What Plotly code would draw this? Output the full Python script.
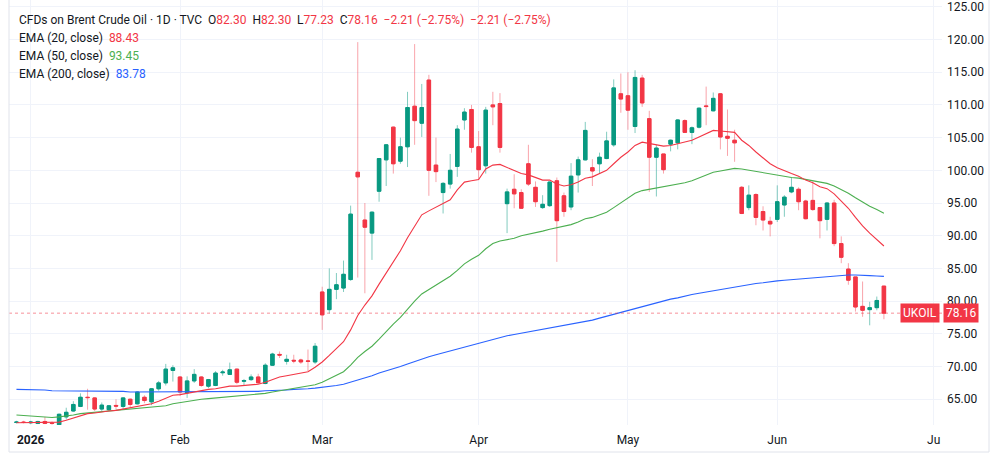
import plotly.graph_objects as go
import pandas as pd

# ---------------- data ----------------
opens = [61.45, 61.5, 61.4, 61.3, 61.6, 61.35, 61.1, 62.3, 63.2, 63.9, 65.3, 65.2, 63.5, 63.4, 64.05, 63.9, 65.0, 64.3, 65.3, 64.6, 66.6, 67.5, 69.4,
         68.4, 66.0, 67.8, 68.4, 67.0, 67.1, 69.05, 68.8, 69.6, 67.75, 68.0, 68.4, 67.4, 70.2, 71.85, 70.8, 70.95, 71.0, 70.85, 70.7,
         81.4, 78.7, 81.8, 82.0, 83.3, 99.7, 92.4, 90.4, 96.8, 101.6, 106.6, 101.4, 103.6, 109.8, 107.2, 113.8, 100.8, 96.6, 97.9, 100.6, 107.7, 109.3,
         103.6, 100.7, 110.0, 110.2, 94.9, 97.1, 96.6, 101.0, 97.4, 94.3, 94.6, 98.4, 96.1, 94.4, 99.3, 101.6, 100.4, 101.0, 101.8, 103.9, 111.7,
         111.4, 106.7, 114.1, 107.9, 102.0, 102.5, 104.0, 104.2, 107.6, 105.8, 106.6, 109.85, 109.1, 111.7, 105.2, 104.6, 97.4, 94.3, 96.3, 93.7, 92.2,
         92.5, 94.7, 96.7, 97.1, 95.3, 95.4, 94.3, 92.5, 95.0, 88.8, 84.9, 83.7, 79.2, 78.7, 79.0, 82.30]
highs = [61.7, 61.7, 61.7, 61.7, 62.3, 61.6, 62.8, 63.7, 64.7, 65.9, 66.6, 65.3, 64.5, 64.1, 65.0, 65.3, 65.1, 66.2, 65.6, 66.7, 67.8, 70.4, 70.2,
         68.5, 68.5, 69.6, 68.5, 68.1, 69.3, 69.5, 70.6, 69.7, 68.1, 68.8, 68.9, 70.5, 72.1, 72.3, 71.8, 71.8, 71.2, 72.6, 73.6,
         82.2, 85.0, 84.3, 86.2, 94.6, 119.6, 95.0, 93.7, 101.8, 104.0, 106.7, 105.0, 112.0, 119.3, 113.2, 114.6, 105.0, 98.2, 102.5, 106.9, 109.5, 110.0,
         106.0, 109.7, 112.0, 111.8, 97.2, 99.4, 97.1, 103.9, 98.3, 96.2, 98.3, 98.9, 96.6, 101.1, 102.1, 107.4, 101.7, 102.7, 105.9, 113.9, 114.8,
         115.0, 115.3, 114.6, 109.1, 103.9, 102.5, 104.7, 107.8, 107.8, 106.7, 109.6, 112.8, 111.9, 111.8, 109.3, 106.2, 97.6, 97.7, 96.5, 94.5, 92.9,
         97.7, 96.2, 98.9, 97.4, 95.5, 98.3, 94.4, 95.1, 95.5, 89.9, 85.8, 83.7, 83.0, 79.9, 80.7, 82.30]
lows = [61.3, 61.3, 61.2, 61.2, 61.2, 61.1, 61.0, 61.9, 63.1, 63.8, 63.4, 63.2, 63.2, 63.2, 63.4, 63.4, 63.7, 64.2, 64.4, 64.1, 66.3, 67.1, 67.7,
        65.5, 65.2, 67.5, 66.9, 66.7, 67.0, 68.6, 68.7, 67.3, 67.1, 67.8, 67.4, 67.3, 70.1, 71.3, 70.3, 70.5, 70.4, 69.3, 70.4,
        75.6, 78.1, 80.3, 81.4, 83.1, 83.6, 81.2, 86.3, 95.2, 97.6, 99.5, 101.0, 100.5, 103.9, 105.1, 96.1, 98.2, 93.4, 97.2, 99.0, 106.2, 102.7,
        98.5, 99.5, 106.9, 102.7, 90.4, 94.2, 94.1, 97.6, 94.4, 94.1, 94.4, 86.0, 92.9, 93.9, 96.6, 101.5, 97.6, 99.5, 101.7, 103.6, 108.8,
        106.2, 105.7, 109.7, 96.7, 96.0, 99.5, 102.9, 103.2, 105.7, 104.0, 106.4, 106.9, 109.0, 103.2, 102.2, 101.3, 93.3, 93.9, 91.6, 90.8, 89.9,
        92.1, 92.9, 96.5, 93.9, 92.5, 93.8, 89.6, 90.8, 88.4, 85.8, 82.5, 78.4, 77.6, 76.3, 78.6, 77.23]
closes = [61.5, 61.45, 61.5, 61.6, 61.3, 61.3, 62.7, 63.0, 64.2, 65.3, 65.25, 63.5, 64.1, 64.0, 63.95, 65.2, 64.2, 66.1, 64.8, 66.6, 67.5, 69.6, 69.8,
          66.1, 67.8, 68.8, 67.1, 68.0, 69.0, 69.15, 69.5, 67.6, 67.85, 68.4, 67.5, 70.2, 71.9, 71.75, 71.1, 70.85, 70.7, 70.8, 73.1,
          77.9, 81.8, 82.5, 84.1, 93.3, 99.0, 91.3, 93.6, 101.8, 103.9, 101.0, 103.6, 109.6, 107.6, 109.6, 100.0, 99.8, 98.0, 100.0, 106.3, 108.9, 103.5,
          100.1, 109.2, 109.7, 103.5, 96.7, 96.4, 94.2, 97.9, 95.2, 94.8, 98.2, 92.3, 93.7, 99.1, 101.6, 106.1, 99.9, 102.0, 104.5, 112.6, 110.9,
          109.2, 114.2, 110.3, 102.0, 103.4, 100.1, 104.6, 107.7, 105.8, 106.5, 109.5, 109.75, 111.0, 105.1, 104.9, 104.2, 93.4, 96.2, 92.8, 92.4, 91.8,
          95.2, 95.9, 97.4, 95.2, 92.6, 94.0, 92.3, 95.0, 88.8, 86.7, 83.2, 79.1, 78.6, 79.0, 80.1, 78.16]

ema20 = [61.4, 61.4, 61.4, 61.4, 61.4, 61.4, 61.5, 61.8, 62.1, 62.5, 62.8, 62.9, 63.1, 63.2, 63.3, 63.5, 63.6, 63.9, 64.0, 64.3, 64.7, 65.2, 65.6,
         65.7, 65.9, 66.2, 66.3, 66.5, 66.6, 66.8, 67.0, 67.0, 67.1, 67.2, 67.3, 67.6, 68.0, 68.4, 68.6, 68.8, 69.0, 69.2, 69.9,
         70.7, 71.7, 72.7, 73.8, 75.6, 77.8, 79.4, 80.8, 82.6, 84.3, 86.0, 87.7, 89.7, 91.5, 93.2, 93.8, 94.4, 94.9, 95.5, 97.0, 98.2, 98.4,
         98.6, 100.2, 100.8, 100.9, 100.4, 100.0, 99.5, 99.3, 98.9, 98.5, 98.5, 97.9, 97.6, 97.8, 98.2, 98.8, 99.0, 99.5, 100.0, 101.0, 102.0,
         102.8, 103.8, 104.3, 104.1, 104.0, 103.7, 103.8, 104.1, 104.3, 104.6, 105.1, 105.6, 106.1, 106.0, 105.9, 105.8, 104.6, 103.8, 102.8, 101.9, 101.0,
         100.4, 99.9, 99.5, 99.1, 98.5, 98.1, 97.5, 97.2, 96.4, 95.3, 94.2, 92.8, 91.5, 90.4, 89.4, 88.43]
ema50 = [62.6, 62.5, 62.4, 62.3, 62.3, 62.2, 62.3, 62.4, 62.6, 62.8, 62.9, 63.0, 63.1, 63.2, 63.2, 63.3, 63.4, 63.5, 63.6, 63.7, 63.8, 64.0, 64.3,
         64.5, 64.7, 64.9, 65.0, 65.1, 65.2, 65.3, 65.3, 65.4, 65.5, 65.6, 65.7, 65.9, 66.1, 66.3, 66.5, 66.7, 66.9, 67.0, 67.2,
         67.6, 68.1, 68.6, 69.2, 70.2, 71.4, 72.3, 73.1, 74.2, 75.4, 76.5, 77.5, 78.8, 80.0, 81.1, 81.8, 82.5, 83.1, 83.8, 84.7, 85.7, 86.4,
         87.0, 88.0, 88.8, 89.2, 89.4, 89.6, 90.0, 90.2, 90.5, 90.7, 91.0, 91.2, 91.4, 91.7, 92.1, 92.6, 92.8, 93.2, 93.6, 94.3, 95.0,
         95.7, 96.5, 96.9, 97.1, 97.3, 97.4, 97.6, 97.9, 98.1, 98.4, 98.8, 99.2, 99.7, 99.9, 100.1, 100.3, 100.2, 100.0, 99.8, 99.6, 99.4,
         99.2, 99.0, 98.9, 98.8, 98.6, 98.4, 98.2, 98.0, 97.6, 97.1, 96.5, 95.8, 95.1, 94.5, 94.0, 93.45]
ema200 = [66.5, 66.5, 66.4, 66.4, 66.4, 66.3, 66.3, 66.3, 66.3, 66.2, 66.2, 66.2, 66.2, 66.2, 66.2, 66.2, 66.1, 66.1, 66.1, 66.1, 66.1, 66.1, 66.1,
          66.1, 66.1, 66.1, 66.1, 66.1, 66.1, 66.1, 66.1, 66.2, 66.2, 66.2, 66.2, 66.3, 66.3, 66.3, 66.4, 66.5, 66.5, 66.6, 66.7,
          66.8, 66.9, 67.1, 67.3, 67.6, 68.0, 68.3, 68.6, 69.0, 69.3, 69.7, 70.0, 70.4, 70.8, 71.2, 71.5, 71.8, 72.1, 72.4, 72.7, 73.0, 73.3,
          73.6, 73.9, 74.2, 74.5, 74.7, 74.9, 75.1, 75.3, 75.5, 75.7, 75.9, 76.0, 76.2, 76.4, 76.6, 76.8, 77.1, 77.4, 77.7, 78.0, 78.3,
          78.6, 78.9, 79.2, 79.5, 79.8, 80.0, 80.3, 80.5, 80.8, 81.0, 81.2, 81.4, 81.6, 81.8, 82.0, 82.2, 82.4, 82.5, 82.7, 82.8, 83.0,
          83.1, 83.2, 83.3, 83.4, 83.5, 83.6, 83.7, 83.8, 83.9, 83.9, 84.0, 84.0, 84.0, 83.9, 83.85, 83.78]

month_starts = ["2026-01", "2026-02", "2026-03", "2026-04", "2026-05", "2026-06", "2026-07"]
month_labels = ["<b>2026</b>", "Feb", "Mar", "Apr", "May", "Jun", "Ju"]
price_ticks = [65, 70, 75, 80, 85, 90, 95, 100, 105, 110, 115, 120, 125]
holidays = ["2026-01-01", "2026-04-03"]
last_price = 78.16

# ---------------- derived ----------------
all_days = [d.strftime("%Y-%m-%d") for d in pd.bdate_range("2025-12-30", "2026-07-15")
            if d.strftime("%Y-%m-%d") not in holidays]
dates = all_days[:len(closes)]
x = list(range(len(dates)))
tick_pos = [next(i for i, d in enumerate(all_days) if d.startswith(m)) for m in month_starts]
body_hi = [max(o, c) for o, c in zip(opens, closes)]
body_lo = [min(o, c) for o, c in zip(opens, closes)]

UP, DOWN = "#089981", "#F23645"
UP_W, DOWN_W = "rgba(8,153,129,0.5)", "rgba(242,54,69,0.45)"
TXT = "#131722"
GRID = "#F0F3FA"
FONT = "Roboto"

fig = go.Figure()
# wicks (lighter)
fig.add_trace(go.Candlestick(
    x=x, open=opens, high=highs, low=lows, close=closes,
    increasing=dict(line=dict(color=UP_W, width=1), fillcolor=UP_W),
    decreasing=dict(line=dict(color=DOWN_W, width=1), fillcolor=DOWN_W),
    whiskerwidth=0, hoverinfo="skip", showlegend=False))
# bodies (solid)
fig.add_trace(go.Candlestick(
    x=x, open=opens, high=body_hi, low=body_lo, close=closes,
    increasing=dict(line=dict(color=UP, width=1), fillcolor=UP),
    decreasing=dict(line=dict(color=DOWN, width=1), fillcolor=DOWN),
    whiskerwidth=0, hoverinfo="skip", showlegend=False))

fig.add_trace(go.Scatter(x=x, y=ema200, mode="lines", line=dict(color="#2962FF", width=1.1),
                         hoverinfo="skip", showlegend=False))
fig.add_trace(go.Scatter(x=x, y=ema50, mode="lines", line=dict(color="#4CAF50", width=1.1),
                         hoverinfo="skip", showlegend=False))
fig.add_trace(go.Scatter(x=x, y=ema20, mode="lines", line=dict(color="#F23645", width=1.1),
                         hoverinfo="skip", showlegend=False))

L, R, T, B = 9, 58, 0, 46
W, H = 1000, 471
PW, PH = W - L - R, H - T - B


def px(xp):
    return (xp - L) / PW


def py(yp):
    return 1 - (yp - T) / PH


# last price dotted line
fig.add_shape(type="line", xref="paper", yref="y", x0=0, x1=1, y0=last_price, y1=last_price,
              line=dict(color="rgba(242,54,69,0.55)", width=1, dash="dot"))
# outer frame
fig.add_shape(type="rect", xref="paper", yref="paper", x0=0, x1=px(989), y0=py(452), y1=py(-2),
              line=dict(color="#E0E3EB", width=1), fillcolor="rgba(0,0,0,0)")

red = lambda s: f'<span style="color:{DOWN}">{s}</span>'
sp = "\u00a0\u00a0"
line1 = ("CFDs on Brent Crude Oil · 1D · TVC" + sp + "O" + red("82.30") + sp + "H" + red("82.30") + sp +
         "L" + red("77.23") + sp + "C" + red("78.16") + sp + red("−2.21 (−2.75%)") + sp + red("−2.21 (−2.75%)"))
legend_lines = [
    (line1, 20),
    ("EMA (20, close)" + sp + f'<span style="color:#F23645">{ema20[-1]:.2f}</span>', 38),
    ("EMA (50, close)" + sp + f'<span style="color:#4CAF50">{ema50[-1]:.2f}</span>', 56),
    ("EMA (200, close)" + sp + f'<span style="color:#2962FF">{ema200[-1]:.2f}</span>', 74),
]
annotations = []
for txt, yy in legend_lines:
    annotations.append(dict(text=txt, xref="paper", yref="paper", x=px(17), y=py(yy),
                            xanchor="left", yanchor="middle", showarrow=False,
                            font=dict(family=FONT, size=12, color=TXT)))
annotations.append(dict(text="UKOIL", xref="paper", yref="y", x=1, y=last_price, xanchor="right",
                        yanchor="middle", xshift=-2, showarrow=False, bgcolor=DOWN, borderpad=2,
                        font=dict(family=FONT, size=12, color="white")))
annotations.append(dict(text=f"{last_price:.2f}", xref="paper", yref="y", x=1, y=last_price, xanchor="left",
                        yanchor="middle", xshift=1, showarrow=False, bgcolor=DOWN, borderpad=2,
                        font=dict(family=FONT, size=12, color="white")))

fig.update_layout(
    width=W, height=H, margin=dict(l=L, r=R, t=T, b=B),
    paper_bgcolor="white", plot_bgcolor="white",
    font=dict(family=FONT, size=12, color=TXT),
    showlegend=False, hovermode=False,
    annotations=annotations,
    xaxis=dict(range=[-1.05, 130.17], tickmode="array", tickvals=tick_pos, ticktext=month_labels,
               showgrid=True, gridcolor=GRID, zeroline=False, showline=False, ticks="",
               rangeslider=dict(visible=False), tickfont=dict(family=FONT, size=12, color=TXT),
               ticklabelstandoff=6),
    yaxis=dict(side="right", range=[61.06, 126.04], tickmode="array", tickvals=price_ticks,
               ticktext=[f"{v:.2f}" for v in price_ticks], showgrid=True, gridcolor=GRID,
               zeroline=False, showline=False, ticks="", tickfont=dict(family=FONT, size=12, color=TXT),
               ticklabelstandoff=4),
)

fig.write_html("out.html")
